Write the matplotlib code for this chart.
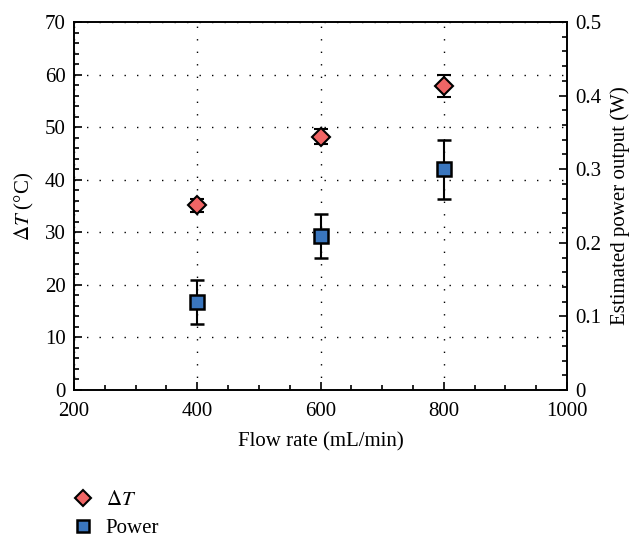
import matplotlib
matplotlib.use("Agg")
import matplotlib.pyplot as plt
from matplotlib.ticker import MultipleLocator

plt.rcParams["font.family"] = "Liberation Serif"
plt.rcParams["mathtext.fontset"] = "stix"

flow = [400, 600, 800]
delta_t = [35.1, 48.2, 57.9]
delta_t_err = [1.3, 1.4, 2.1]
power = [0.119, 0.209, 0.300]
power_err = [0.030, 0.030, 0.040]

fig = plt.figure(figsize=(6.33, 5.35), dpi=100)
ax = fig.add_axes([74 / 633, 1 - 390 / 535, 493 / 633, 368 / 535])
ax2 = ax.twinx()

ax.set_xlim(200, 1000)
ax.set_ylim(0, 70)
ax2.set_ylim(0, 0.5)

ax.xaxis.set_major_locator(MultipleLocator(200))
ax.xaxis.set_minor_locator(MultipleLocator(50))
ax.yaxis.set_major_locator(MultipleLocator(10))
ax.yaxis.set_minor_locator(MultipleLocator(2))
ax2.yaxis.set_major_locator(MultipleLocator(0.1))
ax2.yaxis.set_minor_locator(MultipleLocator(0.02))
ax2.yaxis.set_major_formatter(plt.FuncFormatter(lambda v, p: "0" if v == 0 else f"{v:.1f}"))

ax.tick_params(which="both", direction="in", top=False, right=False, labelsize=15, width=1.2)
ax.tick_params(axis="x", which="major", pad=9)
ax.tick_params(axis="y", which="major", pad=6)
ax.tick_params(which="major", length=6)
ax.tick_params(which="minor", length=3.5)
ax2.tick_params(which="both", direction="in", labelsize=15, width=1.2)
ax2.tick_params(which="major", length=6, pad=6)
ax2.tick_params(which="minor", length=3.5)
for a in (ax, ax2):
    for s in a.spines.values():
        s.set_linewidth(1.2)

ax.grid(True, which="major", color="black", linestyle=(0, (1, 8)), linewidth=1)

ax.errorbar(flow, delta_t, yerr=delta_t_err, fmt="D", color="black", ecolor="black",
            markerfacecolor="#f06565", markeredgecolor="black", markersize=9,
            markeredgewidth=1.5, capsize=5, elinewidth=1.5, capthick=1.5, zorder=3)
ax2.errorbar(flow, power, yerr=power_err, fmt="s", color="black", ecolor="black",
             markerfacecolor="#3a76be", markeredgecolor="black", markersize=10,
             markeredgewidth=1.8, capsize=5, elinewidth=1.5, capthick=1.5, zorder=3)

ax.set_xlabel("Flow rate (mL/min)", fontsize=15, labelpad=8)
ax.set_ylabel(r"$\Delta T$ (°C)", fontsize=15, labelpad=6)
ax2.set_ylabel("Estimated power output (W)", fontsize=15, labelpad=6)

h1 = plt.Line2D([], [], marker="D", linestyle="none", markerfacecolor="#f06565",
                markeredgecolor="black", markersize=8, markeredgewidth=1.5)
h2 = plt.Line2D([], [], marker="s", linestyle="none", markerfacecolor="#3a76be",
                markeredgecolor="black", markersize=8, markeredgewidth=1.8)
fig.legend([h1, h2], [r"$\Delta T$", "Power"], loc="upper left",
           bbox_to_anchor=(60 / 633, 1 - 478 / 535), frameon=False, fontsize=15,
           handlelength=1.0, handletextpad=0.6, labelspacing=0.4, borderaxespad=0.2)

fig.savefig("out.png", dpi=100)
